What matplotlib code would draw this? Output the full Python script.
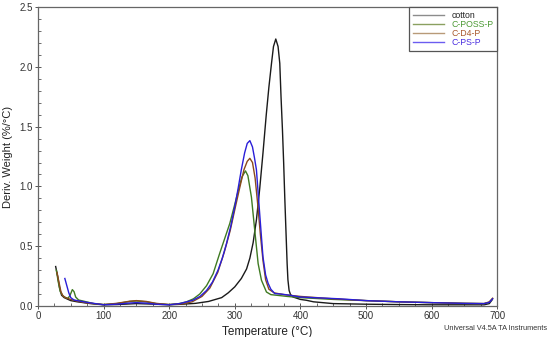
import matplotlib
matplotlib.use("Agg")
from matplotlib import pyplot as plt
from matplotlib.lines import Line2D
from matplotlib.ticker import MultipleLocator, FormatStrFormatter

plt.rcParams["font.family"] = ["Liberation Sans", "DejaVu Sans"]

# ----------------------------------------------------------------------------
# Data
# ----------------------------------------------------------------------------
cotton_T = [27, 30, 33, 36, 40, 50, 60, 80, 100, 120, 150, 180, 200, 220, 240,
            260, 280, 290, 300, 310, 318, 323, 328, 333, 338, 343, 348, 352,
            356, 359, 362.5, 366, 368.6, 370.5, 372.7, 374.5, 376.2, 378,
            379.8, 381, 382.8, 385, 389, 400, 409, 420, 450, 500, 550, 600,
            650, 680, 688, 692]
cotton_y = [0.33, 0.25, 0.15, 0.09, 0.07, 0.045, 0.035, 0.02, 0.01, 0.012,
            0.02, 0.015, 0.01, 0.015, 0.022, 0.038, 0.07, 0.11, 0.16, 0.23,
            0.31, 0.40, 0.53, 0.72, 0.98, 1.28, 1.60, 1.83, 2.03, 2.17, 2.233,
            2.17, 2.03, 1.75, 1.47, 1.20, 0.91, 0.63, 0.355, 0.22, 0.13,
            0.095, 0.075, 0.055, 0.048, 0.035, 0.02, 0.015, 0.012, 0.01, 0.01,
            0.01, 0.02, 0.05]

poss_T = [28, 31, 34, 38, 42, 46, 49, 52.4, 55, 57.5, 62, 70, 85, 100, 120,
          140, 150, 165, 180, 200, 215, 226, 237, 246.6, 257, 267, 277, 285,
          292.4, 300, 306, 311, 316.3, 320, 325.4, 330.5, 335.6, 340.7, 348.3,
          355, 363.6, 380, 400, 450, 500, 550, 600, 650, 680, 688, 693]
poss_y = [0.30, 0.20, 0.12, 0.085, 0.07, 0.065, 0.09, 0.137, 0.12, 0.075,
          0.05, 0.04, 0.02, 0.012, 0.02, 0.038, 0.042, 0.035, 0.02, 0.012,
          0.02, 0.034, 0.06, 0.10, 0.17, 0.27, 0.44, 0.57, 0.69, 0.85, 0.98,
          1.08, 1.13, 1.09, 0.91, 0.63, 0.355, 0.215, 0.117, 0.095, 0.09,
          0.08, 0.07, 0.055, 0.045, 0.035, 0.028, 0.022, 0.02, 0.03, 0.06]

d4_T = [29, 32, 35, 38, 42, 50, 60, 75, 100, 120, 140, 150, 165, 180, 200,
        220, 235, 250, 262, 274, 284, 293, 301, 308, 314, 319, 323, 327, 331,
        335, 339, 343, 347, 352, 360, 375, 400, 450, 500, 550, 600, 650, 680,
        688, 693]
d4_y = [0.28, 0.20, 0.12, 0.085, 0.07, 0.055, 0.04, 0.025, 0.012, 0.022,
        0.04, 0.045, 0.038, 0.022, 0.012, 0.018, 0.035, 0.08, 0.15, 0.28,
        0.45, 0.63, 0.83, 1.00, 1.14, 1.21, 1.235, 1.20, 1.07, 0.85, 0.60,
        0.38, 0.22, 0.14, 0.11, 0.095, 0.08, 0.06, 0.045, 0.035, 0.028,
        0.022, 0.02, 0.035, 0.065]

ps_T = [41, 44, 47, 50, 55, 60, 75, 100, 120, 140, 150, 165, 180, 200, 216,
        236, 247, 257, 266, 274.5, 281, 287.3, 294, 300, 305, 310, 315, 319,
        323, 327, 330, 333, 338, 343, 347, 350.8, 355, 361, 370, 384, 400,
        460, 500, 550, 600, 650, 680, 688, 693]
ps_y = [0.23, 0.17, 0.11, 0.07, 0.05, 0.045, 0.03, 0.01, 0.015, 0.025, 0.028,
        0.024, 0.015, 0.01, 0.02, 0.048, 0.08, 0.13, 0.20, 0.30, 0.40, 0.52,
        0.67, 0.83, 0.98, 1.14, 1.28, 1.36, 1.383, 1.33, 1.24, 1.14, 0.77,
        0.41, 0.26, 0.19, 0.14, 0.104, 0.10, 0.09, 0.075, 0.06, 0.045, 0.035,
        0.028, 0.022, 0.02, 0.03, 0.06]

labels = ["cotton", "C-POSS-P", "C-D4-P", "C-PS-P"]
line_colors = ["#1a1a1a", "#3f7a22", "#8a4a1c", "#2a1ed8"]
legend_line_colors = ["#8c8c8c", "#8aa060", "#b89a78", "#6b5cf0"]
legend_text_colors = ["#222222", "#4c9a35", "#a8582c", "#4a2ee0"]

# ----------------------------------------------------------------------------
# Plot
# ----------------------------------------------------------------------------
fig = plt.figure(figsize=(5.5, 3.37), dpi=100)
ax = fig.add_axes([0.069, 0.092, 0.835, 0.887])

series = [(cotton_T, cotton_y), (poss_T, poss_y), (d4_T, d4_y), (ps_T, ps_y)]
for (T, y), c in zip(series, line_colors):
    ax.plot(T, y, color=c, linewidth=1.0)

ax.set_xlim(0, 700)
ax.set_ylim(0, 2.5)
ax.xaxis.set_major_locator(MultipleLocator(100))
ax.xaxis.set_minor_locator(MultipleLocator(25))
ax.yaxis.set_major_locator(MultipleLocator(0.5))
ax.yaxis.set_minor_locator(MultipleLocator(0.1))
ax.yaxis.set_major_formatter(FormatStrFormatter("%.1f"))

for s in ax.spines.values():
    s.set_color("#666666")
    s.set_linewidth(0.9)
ax.tick_params(which="major", direction="inout", length=4, width=0.7,
               color="#555555", labelsize=7, labelcolor="#333333", pad=1.5)
ax.tick_params(which="minor", direction="in", length=2, width=0.6,
               color="#555555")

ax.set_xlabel("Temperature (°C)", fontsize=8.5, color="#222222", labelpad=4)
ax.set_ylabel("Deriv. Weight (%/°C)", fontsize=8, color="#222222",
              labelpad=5)

handles = [Line2D([], [], color=c, linewidth=1.0) for c in legend_line_colors]
leg = ax.legend(handles, labels, loc="upper right", fontsize=6.3,
                labelcolor=legend_text_colors, fancybox=False,
                edgecolor="#555555", framealpha=1, borderaxespad=0,
                handlelength=3.6, handletextpad=0.8, labelspacing=0.0,
                borderpad=0.45)
leg.get_frame().set_linewidth(0.9)

fig.text(0.994, 0.026, "Universal V4.5A TA Instruments", fontsize=5.3,
         color="#333333", ha="right", va="center")

fig.savefig("out.png", dpi=100)
